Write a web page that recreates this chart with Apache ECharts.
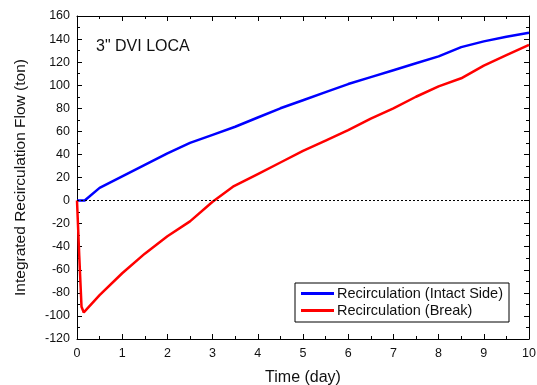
<!DOCTYPE html>
<html>
<head>
<meta charset="utf-8">
<script src="https://cdn.jsdelivr.net/npm/echarts@6/dist/echarts.min.js"></script>
<style>
  html, body { margin: 0; padding: 0; background: #fff; }
  #chart { width: 537px; height: 385px; }
</style>
</head>
<body>
<div id="chart"></div>
<script>
// time (day) / integrated flow (ton)
const intactTime = [0, 0.17, 0.5, 1, 1.5, 2, 2.5, 3, 3.5, 4, 4.5, 5, 5.5, 6, 6.5, 7, 7.5, 8, 8.5, 9, 9.5, 10];
const intactFlow = [0, 0, 11, 21, 31, 41, 50, 57, 64, 72, 80, 87, 94, 101, 107, 113, 119, 125, 133, 138, 142, 145.5];

const breakTime = [0, 0.05, 0.1, 0.15, 0.5, 1, 1.5, 2, 2.5, 3, 3.45, 4, 4.5, 5, 5.5, 6, 6.5, 7, 7.5, 8, 8.5, 9, 9.5, 10];
const breakFlow = [0, -48, -92, -97, -82, -63, -46, -31, -18, -1, 12, 23, 33, 43, 52, 61, 71, 80, 90, 99, 106, 117, 126, 135];

const seriesNames = ['Recirculation (Intact Side)', 'Recirculation (Break)'];
const titleText = '3" DVI LOCA';

const font = 'Liberation Sans';

const pairs = (xs, ys) => xs.map((x, i) => [x, ys[i]]);

const chart = echarts.init(document.getElementById('chart'));

const baseX = {
  type: 'value',
  min: 0,
  max: 10,
  interval: 1,
  axisLine: { show: true, onZero: false, lineStyle: { color: '#000', width: 1 } },
  axisTick: { inside: true, length: 5, lineStyle: { color: '#000' } },
  minorTick: { show: true, splitNumber: 2, length: 3, lineStyle: { color: '#000' } },
  splitLine: { show: false }
};
const baseY = {
  type: 'value',
  min: -120,
  max: 160,
  interval: 20,
  axisLine: { show: true, onZero: false, lineStyle: { color: '#000', width: 1 } },
  axisTick: { inside: true, length: 5, lineStyle: { color: '#000' } },
  minorTick: { show: true, splitNumber: 2, length: 3, lineStyle: { color: '#000' } },
  splitLine: { show: false }
};

chart.setOption({
  animation: false,
  textStyle: { fontFamily: font },
  title: {
    text: titleText,
    left: 91,
    top: 34,
    textStyle: { fontFamily: font, fontSize: 16, fontWeight: 'normal', color: '#111' }
  },
  grid: { left: 77, right: 8, top: 16, bottom: 46, outerBoundsMode: 'none' },
  legend: {
    orient: 'vertical',
    left: 295,
    top: 283,
    padding: [3, 6, 4, 6],
    itemGap: 2,
    itemWidth: 33,
    itemHeight: 3,
    icon: 'rect',
    borderColor: '#000',
    borderWidth: 1,
    borderRadius: 0,
    textStyle: { fontFamily: font, fontSize: 14.5, color: '#111', padding: [0, 0, 0, -2] },
    data: seriesNames
  },
  xAxis: [
    Object.assign({}, baseX, {
      position: 'bottom',
      name: 'Time (day)',
      nameLocation: 'middle',
      nameGap: 31,
      nameTextStyle: { fontFamily: font, fontSize: 16, color: '#111' },
      axisLabel: { margin: 8, fontSize: 12.5, color: '#111', fontFamily: font }
    }),
    Object.assign({}, baseX, { position: 'top', axisLabel: { show: false } })
  ],
  yAxis: [
    Object.assign({}, baseY, {
      position: 'left',
      name: 'Integrated Recirculation Flow (ton)',
      nameLocation: 'middle',
      nameGap: 48,
      nameTextStyle: { fontFamily: font, fontSize: 15.5, color: '#111' },
      axisLabel: { margin: 7, fontSize: 12.5, color: '#111', fontFamily: font }
    }),
    Object.assign({}, baseY, { position: 'right', axisLabel: { show: false } })
  ],
  series: [
    {
      name: seriesNames[0],
      type: 'line',
      data: pairs(intactTime, intactFlow),
      symbol: 'none',
      color: '#0000ff',
      lineStyle: { color: '#0000ff', width: 2.5 },
      markLine: {
        silent: true,
        symbol: 'none',
        label: { show: false },
        lineStyle: { color: '#000', width: 1, type: [2, 2] },
        data: [{ yAxis: 0 }]
      },
      z: 3
    },
    {
      name: seriesNames[1],
      type: 'line',
      data: pairs(breakTime, breakFlow),
      symbol: 'none',
      color: '#ff0000',
      lineStyle: { color: '#ff0000', width: 2.5 },
      z: 4
    }
  ]
});
</script>
</body>
</html>
